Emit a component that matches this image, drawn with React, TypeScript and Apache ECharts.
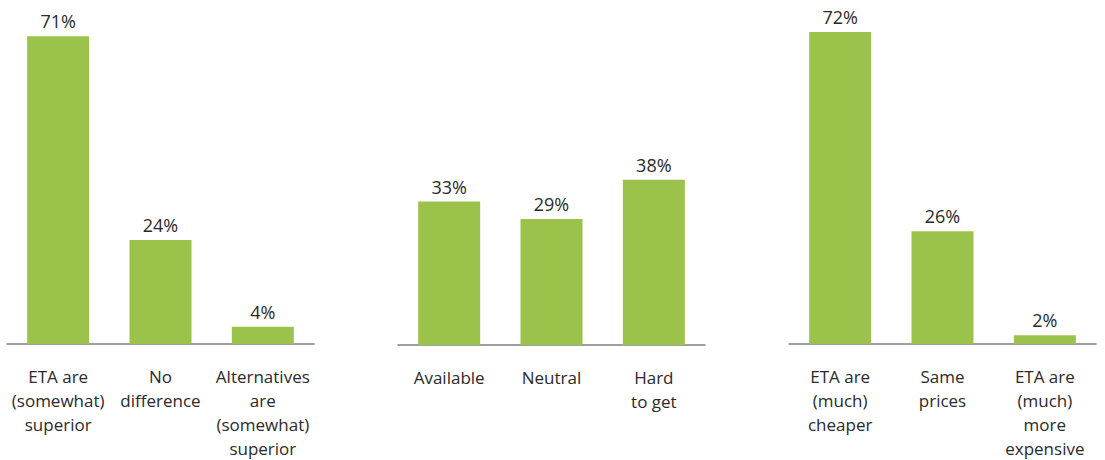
import React, { useEffect, useRef } from "react";
import * as echarts from "echarts";

const cats1 = ["ETA are\n(somewhat)\nsuperior", "No\ndifference", "Alternatives\nare\n(somewhat)\nsuperior"];
const vals1 = [71, 24, 4];
const cats2 = ["Available", "Neutral", "Hard\nto get"];
const vals2 = [33, 29, 38];
const cats3 = ["ETA are\n(much)\ncheaper", "Same\nprices", "ETA are\n(much)\nmore\nexpensive"];
const vals3 = [72, 26, 2];

const GREEN = "#9bc34b";
const TEXT = "#2a2a2a";
const FONT = "'Open Sans', 'Noto Sans', sans-serif";

export default function App() {
  const ref = useRef<HTMLDivElement>(null);
  useEffect(() => {
    if (!ref.current) return;
    const chart = echarts.init(ref.current, undefined, { renderer: "svg" });
    const lefts = [7, 398, 789];
    const cats = [cats1, cats2, cats3];
    const vals = [vals1, vals2, vals3];
    chart.setOption({
      animation: false,
      textStyle: { fontFamily: FONT },
      grid: lefts.map((l) => ({ left: l, width: 307, top: 32, bottom: 115, containLabel: false })),
      xAxis: cats.map((c, i) => ({
        type: "category",
        gridIndex: i,
        data: c,
        axisTick: { show: false },
        axisLine: { lineStyle: { color: "#808080", width: 1.5 } },
        axisLabel: {
          interval: 0,
          color: TEXT,
          fontSize: 17,
          lineHeight: 24,
          margin: 20,
          fontFamily: FONT,
        },
      })),
      yAxis: cats.map((_, i) => ({
        type: "value",
        gridIndex: i,
        min: 0,
        max: 72,
        show: false,
        splitLine: { show: false },
      })),
      series: vals.map((v, i) => ({
        type: "bar",
        xAxisIndex: i,
        yAxisIndex: i,
        data: v,
        barWidth: 62,
        itemStyle: { color: GREEN },
        label: {
          show: true,
          position: "top",
          distance: 6,
          formatter: "{c}%",
          color: TEXT,
          fontSize: 18,
          fontFamily: FONT,
        },
      })),
    });
    return () => chart.dispose();
  }, []);
  return (
    <div
      ref={ref}
      style={{ position: "absolute", left: 0, top: 0, width: 1105, height: 460, background: "#fff" }}
    />
  );
}
